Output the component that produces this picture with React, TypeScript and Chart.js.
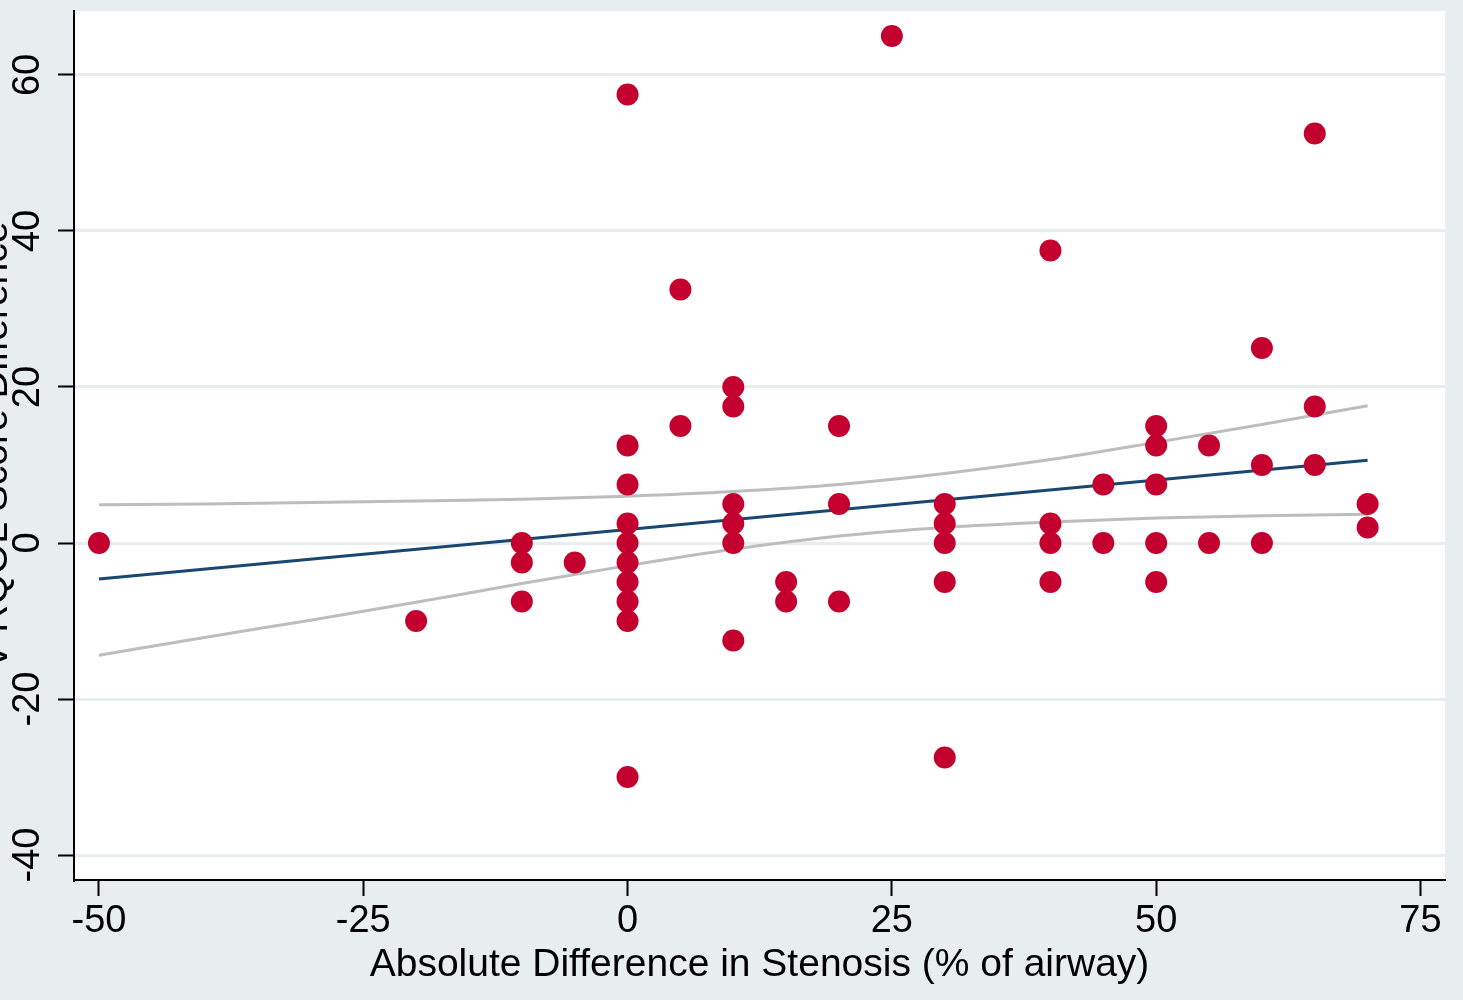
import React, { useEffect, useRef } from "react";
import { Chart, registerables } from "chart.js";

Chart.register(...registerables);

// ---- data ----
const xTickValues = [-50, -25, 0, 25, 50, 75];
const yTickValues = [-40, -20, 0, 20, 40, 60];
const xAxisTitle = "Absolute Difference in Stenosis (% of airway)";
const yAxisTitle = "V-RQOL Score Difference";

const stenosisDiff = [
  -50, -20, -10, -10, -10, -5,
  0, 0, 0, 0, 0, 0, 0, 0, 0, 0,
  5, 5,
  10, 10, 10, 10, 10, 10,
  15, 15,
  20, 20, 20,
  25,
  30, 30, 30, 30, 30,
  40, 40, 40, 40,
  45, 45,
  50, 50, 50, 50, 50,
  55, 55,
  60, 60, 60,
  65, 65, 65,
  70, 70,
];
const vrqolDiff = [
  0, -10, 0, -2.5, -7.5, -2.5,
  57.5, 12.5, 7.5, 2.5, 0, -2.5, -5, -7.5, -10, -30,
  32.5, 15,
  20, 17.5, 5, 2.5, 0, -12.5,
  -5, -7.5,
  15, 5, -7.5,
  65,
  5, 2.5, 0, -5, -27.5,
  37.5, 2.5, 0, -5,
  7.5, 0,
  15, 12.5, 7.5, 0, -5,
  12.5, 0,
  25, 10, 0,
  52.5, 17.5, 10,
  5, 2,
];

const fitX = [-50, 70];
const fitY = [-4.6, 10.6];

const ciX = [-50, -40, -30, -20, -10, 0, 10, 20, 30, 40, 50, 60, 70];
const ciUpper = [4.9, 5.0, 5.2, 5.4, 5.6, 6.0, 6.6, 7.5, 8.9, 10.7, 12.9, 15.2, 17.6];
const ciLower = [-14.4, -12.1, -9.9, -7.6, -5.2, -2.9, -0.8, 0.9, 2.0, 2.7, 3.2, 3.5, 3.7];

// ---- styles ----
const BG = "#e8eeee";
const FONT = "'Liberation Sans', Arial, Helvetica, sans-serif";

const pairs = (xs: number[], ys: number[]) => xs.map((x, i) => ({ x, y: ys[i] }));

export default function App() {
  const ref = useRef<HTMLCanvasElement | null>(null);

  useEffect(() => {
    if (!ref.current) return;
    const bgPlugin = {
      id: "bgPlugin",
      beforeDraw(chart: any) {
        const { ctx, chartArea, width, height } = chart;
        ctx.save();
        ctx.fillStyle = BG;
        ctx.fillRect(0, 0, width, height);
        ctx.fillStyle = "#ffffff";
        ctx.fillRect(chartArea.left, chartArea.top, chartArea.right - chartArea.left, chartArea.bottom - chartArea.top);
        ctx.restore();
      },
    };

    const chart = new Chart(ref.current, {
      type: "scatter",
      data: {
        datasets: [
          {
            label: "points",
            data: pairs(stenosisDiff, vrqolDiff),
            backgroundColor: "#c4002f",
            borderWidth: 0,
            pointRadius: 11,
            order: 0,
          },
          {
            label: "fit",
            data: pairs(fitX, fitY),
            showLine: true,
            borderColor: "#1a476f",
            borderWidth: 3,
            pointRadius: 0,
            order: 1,
          },
          {
            label: "upper",
            data: pairs(ciX, ciUpper),
            showLine: true,
            borderColor: "#bdbdbd",
            borderWidth: 3,
            pointRadius: 0,
            cubicInterpolationMode: "monotone",
            order: 2,
          },
          {
            label: "lower",
            data: pairs(ciX, ciLower),
            showLine: true,
            borderColor: "#bdbdbd",
            borderWidth: 3,
            pointRadius: 0,
            cubicInterpolationMode: "monotone",
            order: 3,
          },
        ],
      } as any,
      options: {
        animation: false,
        responsive: false,
        events: [],
        layout: { padding: { top: 11, right: 18, left: 0, bottom: 0 } },
        plugins: { legend: { display: false }, tooltip: { enabled: false } },
        scales: {
          x: {
            type: "linear",
            min: -52.36,
            max: 77.32,
            afterBuildTicks: (s: any) => {
              s.ticks = xTickValues.map((v) => ({ value: v }));
            },
            afterFit: (s: any) => {
              s.height = 120;
              s.paddingLeft = 0;
              s.paddingRight = 0;
            },
            border: { display: true, color: "#000", width: 2 },
            grid: {
              drawOnChartArea: false,
              drawTicks: true,
              tickLength: 16,
              tickColor: "#000",
              tickWidth: 2,
            },
            ticks: {
              autoSkip: false,
              maxRotation: 0,
              minRotation: 0,
              padding: 3,
              color: "#000",
              font: { family: FONT, size: 38 },
            },
            title: {
              display: true,
              text: xAxisTitle,
              color: "#000",
              font: { family: FONT, size: 39 },
              padding: { top: 0, bottom: 11 },
            },
          },
          y: {
            type: "linear",
            min: -43.2,
            max: 68.2,
            afterBuildTicks: (s: any) => {
              s.ticks = yTickValues.map((v) => ({ value: v }));
            },
            afterFit: (s: any) => {
              s.width = 94;
              s.paddingTop = 0;
              s.paddingBottom = 0;
            },
            border: { display: true, color: "#000", width: 2 },
            grid: {
              drawOnChartArea: true,
              color: BG,
              lineWidth: 3,
              drawTicks: true,
              tickLength: 16,
              tickColor: "#000",
              tickWidth: 2,
            },
            ticks: {
              autoSkip: false,
              minRotation: 90,
              maxRotation: 90,
              crossAlign: "center",
              padding: 2,
              color: "#000",
              font: { family: FONT, size: 38 },
            },
            title: {
              display: true,
              text: yAxisTitle,
              color: "#000",
              font: { family: FONT, size: 39, lineHeight: 1 },
              padding: { top: -3, bottom: 0 },
            },
          },
        },
      } as any,
      plugins: [bgPlugin],
    });
    return () => chart.destroy();
  }, []);

  return (
    <div style={{ position: "absolute", left: -20, top: 0, width: 1483, height: 1000, background: BG }}>
      <canvas ref={ref} width={1483} height={1000} style={{ display: "block", width: 1483, height: 1000 }} />
    </div>
  );
}
